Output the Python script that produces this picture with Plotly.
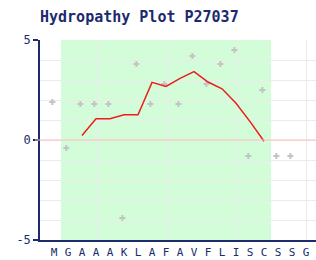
import plotly.graph_objects as go

residues = ["M", "G", "A", "A", "A", "K", "L", "A", "F", "A", "V", "F", "L", "I", "S", "C", "S", "S", "G"]
positions = list(range(len(residues)))
point_positions = list(range(18))
hydropathy = [1.9, -0.4, 1.8, 1.8, 1.8, -3.9, 3.8, 1.8, 2.8, 1.8, 4.2, 2.8, 3.8, 4.5, -0.8, 2.5, -0.8, -0.8]
smooth_positions = [2, 3, 4, 5, 6, 7, 8, 9, 10, 11, 12, 13, 14, 15]
smooth_values = [0.22, 1.06, 1.06, 1.26, 1.26, 2.88, 2.68, 3.08, 3.42, 2.90, 2.56, 1.84, 0.92, -0.06]
region_start, region_end = 0.5, 15.5
grid_x = [3.05, 8.05, 13.05, 18.05]
y_ticks = [-5, 0, 5]

navy = "#1c2a6e"
fig = go.Figure()
fig.add_trace(go.Scatter(x=[p - 0.12 for p in point_positions], y=hydropathy, mode="markers",
                         marker=dict(symbol="cross", size=5, color="#c4c4c4"),
                         hoverinfo="skip", showlegend=False))
fig.add_trace(go.Scatter(x=smooth_positions, y=smooth_values, mode="lines",
                         line=dict(color="#ee1c1c", width=1.5),
                         hoverinfo="skip", showlegend=False))

fig.add_vrect(x0=region_start, x1=region_end, fillcolor="#d2fdd8", line_width=0, layer="below")
fig.add_shape(type="line", xref="paper", yref="y", x0=-5/276, x1=1, y0=0, y1=0,
              line=dict(color="#ffbcbc", width=1), layer="above")

xr = [-1, 18.71]
fig.update_layout(
    width=316, height=260,
    margin=dict(l=40, r=0, t=40, b=20),
    paper_bgcolor="white", plot_bgcolor="white",
    title=dict(text="<b>Hydropathy Plot P27037</b>", x=40/316, xanchor="left",
               y=1 - 17/260, yanchor="middle",
               font=dict(family="DejaVu Sans Mono", size=15, color=navy)),
    xaxis=dict(range=xr, tickvals=grid_x, showticklabels=False, ticks="",
               showgrid=True, gridcolor="#ebebeb", gridwidth=1,
               showline=True, linecolor=navy, linewidth=1.5, zeroline=False, fixedrange=True),
    xaxis2=dict(range=xr, overlaying="x", anchor="y", side="bottom",
                tickvals=positions, ticktext=residues, showgrid=False, showline=False,
                ticks="", zeroline=False, ticklabelstandoff=4,
                tickfont=dict(family="DejaVu Sans Mono", size=11, color=navy)),
    yaxis=dict(range=[-5, 5], tickvals=y_ticks, ticktext=["-5", "0", "5"],
               ticks="outside", ticklen=5, tickcolor=navy, tickwidth=1.5,
               showgrid=True, gridcolor="#ebebeb",
               showline=True, linecolor=navy, linewidth=1.5, zeroline=False,
               ticklabelstandoff=0,
               tickfont=dict(family="DejaVu Sans Mono", size=12, color=navy)),
)
fig.update_yaxes(minor=dict(tickvals=[-4, -3, -2, -1, 1, 2, 3, 4], showgrid=True,
                            gridcolor="#ebebeb", ticks=""))
fig.add_trace(go.Scatter(x=[None], y=[None], xaxis="x2", showlegend=False, hoverinfo="skip"))
fig.write_html("out.html")
